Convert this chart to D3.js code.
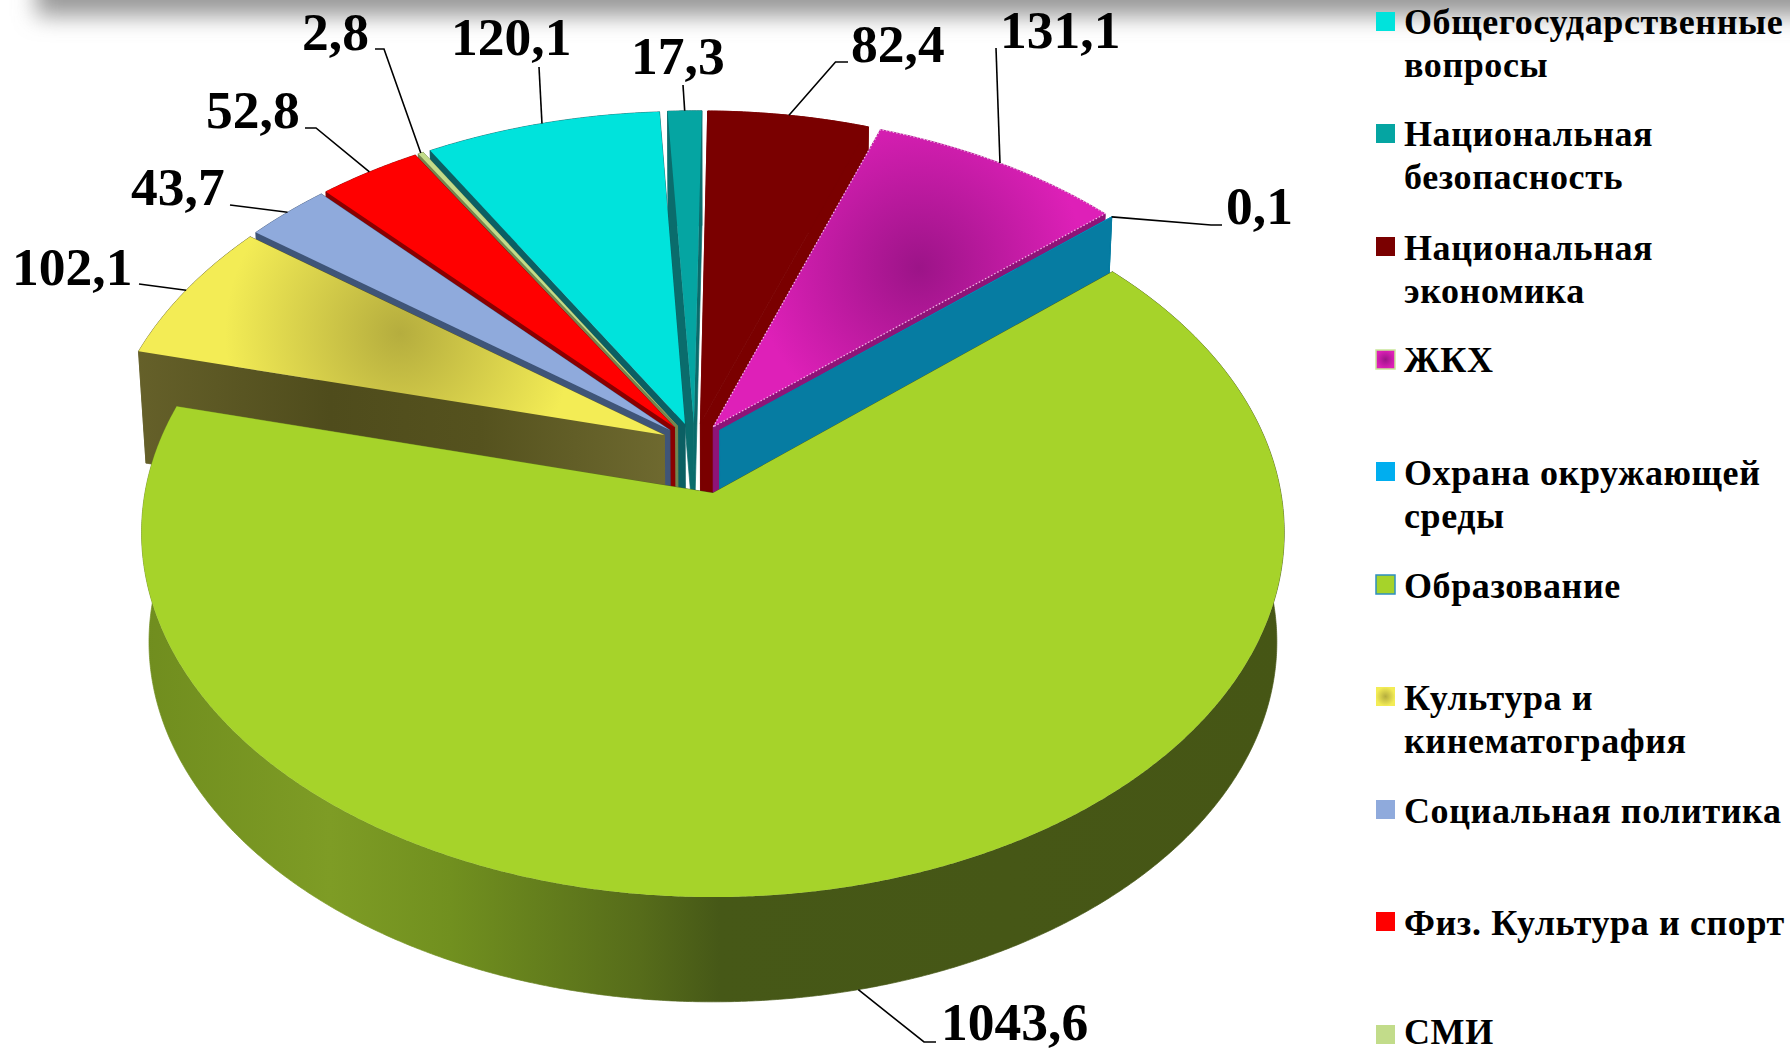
<!DOCTYPE html>
<html><head><meta charset="utf-8">
<style>html,body{margin:0;padding:0;background:#fff;overflow:hidden}svg{display:block}
text{font-family:"Liberation Serif","Times New Roman",serif;font-weight:bold;fill:#000}</style>
<script src="https://cdnjs.cloudflare.com/ajax/libs/d3/7.8.5/d3.min.js"></script>
</head><body><svg id="c" width="1790" height="1052"></svg>
<script>
// ---- data ----
const categories = ["Общегосударственные вопросы","Национальная безопасность","Национальная экономика","ЖКХ","Охрана окружающей среды","Образование","Культура и кинематография","Социальная политика","Физ. Культура и спорт","СМИ"];
const values = [120.1,17.3,82.4,131.1,0.1,1043.6,102.1,43.7,52.8,2.8];
const valueLabels = ["120,1","17,3","82,4","131,1","0,1","1043,6","102,1","43,7","52,8","2,8"];
const topColors = ["#00E3DC","#05A5A2","#7A0000","#DE20B8","#00AEEF","#A6D32A","#F3EC55","#8FAADC","#FF0000","#C2DC8A"];
const sideColors = ["#0B5F63","#0A6C6C","#7A0000","#8E1478","#067CA2","url(#gSideGreen)","url(#gSideYellow)","#3F5578","#8A0000","#75864F"];
const legendLines = [["Общегосударственные","вопросы"],["Национальная","безопасность"],["Национальная","экономика"],["ЖКХ"],["Охрана окружающей","среды"],["Образование"],["Культура и","кинематография"],["Социальная политика"],["Физ. Культура и спорт"],["СМИ"]];

// ---- layout ----
const svg = d3.select("#c");
const P = {x:713.5,y:493,rx:568,ry:360.4,persp:0.108,depth:110,k:0.987};
const base = {u:-0.034,v:0.138};
const explode = [.06,.06,.06,.06,.06,.142,.06,.06,.06,.06];
const startDeg = -30.3;
const legendSwatchY = [12,124,237,350,462,575,687,800,912,1025];
const legendBaseY = [34,146,260,372,485,598,710,823,935,1044];
const legendGap = 43.3;
const labelPos = [[451,55],[631,74],[851,62],[1000,48],[1226,224],[941,1040],[12,285],[131,205],[206,128],[302,50]];
const leaders = [[[539,67]],[[683,85]],[[848,62],[835.5,62]],[[996,48]],[[1222,225],[1211,225]],[[936,1042],[924,1042]],[[139,284]],[[230,205]],[[305,128],[316,128]],[[375,49],[384,49]]];

const pie = d3.pie().sort(null).value(d=>d).startAngle(startDeg*Math.PI/180).endAngle((startDeg+360)*Math.PI/180);
const arcs = pie(values).map((a,i)=>{
  const m=(a.startAngle+a.endAngle)/2;
  return {i,a0:a.startAngle,a1:a.endAngle,m,
    ou:base.u+explode[i]*Math.sin(m),ov:base.v+explode[i]*Math.cos(m)};
});
function proj(u,v){const s=1/(1+P.persp*v);return [P.x+P.rx*u*s,P.y-P.ry*v*s];}
function low(p){return [P.x+P.k*(p[0]-P.x),P.y+P.depth+P.k*(p[1]-P.y)];}
function rim(d,t){return proj(d.ou+Math.sin(t),d.ov+Math.cos(t));}
function rimPts(d){const n=Math.max(2,Math.ceil((d.a1-d.a0)*180));return d3.range(n+1).map(j=>rim(d,d.a0+(d.a1-d.a0)*j/n));}
const line=d3.line();

// ---- defs ----
const defs=svg.append("defs");
defs.append("filter").attr("id","blur").attr("x","-10%").attr("y","-300%").attr("width","120%").attr("height","700%")
  .append("feGaussianBlur").attr("stdDeviation",11);
function lin(id,stops){const g=defs.append("linearGradient").attr("id",id).attr("gradientUnits","userSpaceOnUse").attr("x1",130).attr("x2",1290).attr("y1",0).attr("y2",0);
  stops.forEach(s=>g.append("stop").attr("offset",(s[0]-130)/1160).attr("stop-color",s[1]));}
lin("gSideGreen",[[130,"#6F8C1E"],[330,"#7E9C25"],[450,"#71901F"],[640,"#566C1A"],[720,"#465817"],[1290,"#465615"]]);
lin("gSideYellow",[[130,"#66612A"],[330,"#4F4C1C"],[480,"#55521E"],[670,"#6F6A30"]]);
function rad(id,cx,cy,r,c0,c1){const g=defs.append("radialGradient").attr("id",id).attr("gradientUnits","userSpaceOnUse").attr("cx",cx).attr("cy",cy).attr("r",r);
  g.append("stop").attr("offset",0).attr("stop-color",c0);g.append("stop").attr("offset",1).attr("stop-color",c1);}
rad("gMag",919,268,165,"#9C1488",topColors[3]);
rad("gYel",400,333,175,"#B5AD3E",topColors[6]);
function radB(id,c0,c1){const g=defs.append("radialGradient").attr("id",id);
  g.append("stop").attr("offset",0).attr("stop-color",c0);g.append("stop").attr("offset",1).attr("stop-color",c1);}
radB("sMag","#9C1488",topColors[3]);radB("sYel","#B5AD3E",topColors[6]);

// ---- top shadow band ----
svg.append("rect").attr("x",36).attr("y",-40).attr("width",1800).attr("height",56).attr("fill","#9A9A9A").attr("filter","url(#blur)");

// ---- slices: back-to-front ----
const order=[1,0,9,8,7,6,2,3,4,5];
const topFill=d=>d.i===3?"url(#gMag)":d.i===6?"url(#gYel)":topColors[d.i];
order.forEach(idx=>{
  const d=arcs[idx],g=svg.append("g").attr("class","slice");
  const c=proj(d.ou,d.ov),pts=rimPts(d),side=sideColors[idx];
  const face=(a,b)=>g.append("path").attr("d",line([a,b,low(b),low(a)])+"Z").attr("fill",side).attr("stroke",side).attr("stroke-width",.7);
  face(c,pts[pts.length-1]);face(c,pts[0]);
  g.append("path").attr("d",line(pts.concat(pts.slice().reverse().map(low)))+"Z").attr("fill",side).attr("stroke",side).attr("stroke-width",.7);
  const t=g.append("path").attr("d",line([c].concat(pts))+"Z").attr("fill",topFill(d));
  if(idx===3) t.attr("stroke","#F6B8E8").attr("stroke-width",1.2).attr("stroke-dasharray","1.5 2");
  if(idx===2) t.attr("stroke",topColors[2]).attr("stroke-width",.8);
});

// ---- leaders & value labels ----
arcs.forEach(d=>{
  const i=d.i;
  let end=rim(d,d.m); if(i===5) end=low(end);
  svg.append("path").attr("d",line(leaders[i].concat([end]))).attr("fill","none").attr("stroke","#000").attr("stroke-width",1.6);
  svg.append("text").attr("x",labelPos[i][0]).attr("y",labelPos[i][1]).attr("font-size",53.5).text(valueLabels[i]);
});

// ---- legend ----
const leg=svg.selectAll("g.leg").data(categories).join("g").attr("class","leg");
leg.append("rect").attr("x",1376).attr("y",(d,i)=>legendSwatchY[i]).attr("width",19).attr("height",19)
  .attr("fill",(d,i)=>i===3?"url(#sMag)":i===6?"url(#sYel)":topColors[i])
  .attr("stroke",(d,i)=>i===3?"#C9E69A":i===5?"#2E8FC0":"none").attr("stroke-width",(d,i)=>i===3||i===5?1.5:0);
leg.selectAll("text").data((d,i)=>legendLines[i].map((t,j)=>({t,j,i}))).join("text")
  .attr("x",1404).attr("y",d=>legendBaseY[d.i]+d.j*legendGap).attr("font-size",36).attr("letter-spacing",.6).text(d=>d.t);
</script></body></html>
